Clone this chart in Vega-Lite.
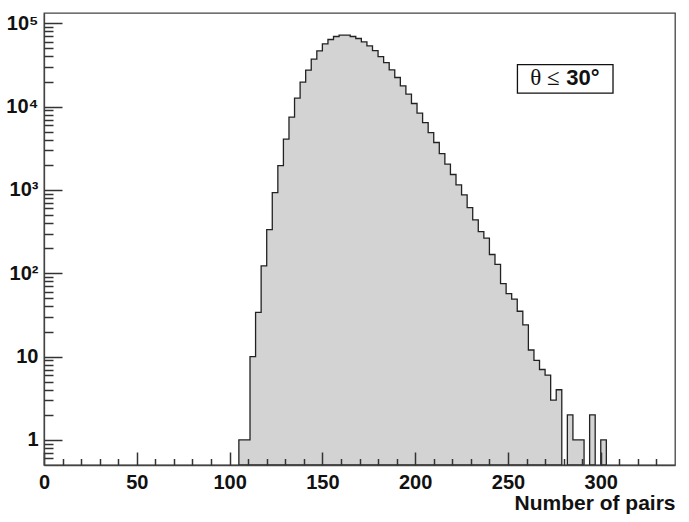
{
  "$schema": "https://vega.github.io/schema/vega-lite/v6.json",
  "width": 631,
  "height": 452,
  "autosize": "none",
  "padding": {"left": 44, "top": 13, "right": 14, "bottom": 57},
  "background": "white",
  "config": {"view": {"stroke": "#444", "strokeWidth": 1.3}, "font": "Liberation Sans"},
  "resolve": {"axis": {"x": "independent", "y": "independent"}},
  "datasets": {
    "bins": [
      {"lo": 105, "hi": 108, "n": 1, "seg": 1},
      {"lo": 108, "hi": 111, "n": 1, "seg": 1},
      {"lo": 111, "hi": 114, "n": 10, "seg": 1},
      {"lo": 114, "hi": 117, "n": 34, "seg": 1},
      {"lo": 117, "hi": 120, "n": 123, "seg": 1},
      {"lo": 120, "hi": 123, "n": 335, "seg": 1},
      {"lo": 123, "hi": 126, "n": 930, "seg": 1},
      {"lo": 126, "hi": 129, "n": 1963, "seg": 1},
      {"lo": 129, "hi": 132, "n": 4074, "seg": 1},
      {"lo": 132, "hi": 135, "n": 7480, "seg": 1},
      {"lo": 135, "hi": 138, "n": 12650, "seg": 1},
      {"lo": 138, "hi": 141, "n": 19680, "seg": 1},
      {"lo": 141, "hi": 144, "n": 27440, "seg": 1},
      {"lo": 144, "hi": 147, "n": 37150, "seg": 1},
      {"lo": 147, "hi": 150, "n": 46740, "seg": 1},
      {"lo": 150, "hi": 153, "n": 56760, "seg": 1},
      {"lo": 153, "hi": 156, "n": 63960, "seg": 1},
      {"lo": 156, "hi": 159, "n": 69500, "seg": 1},
      {"lo": 159, "hi": 162, "n": 72150, "seg": 1},
      {"lo": 162, "hi": 165, "n": 72080, "seg": 1},
      {"lo": 165, "hi": 168, "n": 69480, "seg": 1},
      {"lo": 168, "hi": 171, "n": 65730, "seg": 1},
      {"lo": 171, "hi": 174, "n": 59970, "seg": 1},
      {"lo": 174, "hi": 177, "n": 53700, "seg": 1},
      {"lo": 177, "hi": 180, "n": 47100, "seg": 1},
      {"lo": 180, "hi": 183, "n": 39940, "seg": 1},
      {"lo": 183, "hi": 186, "n": 33820, "seg": 1},
      {"lo": 186, "hi": 189, "n": 27640, "seg": 1},
      {"lo": 189, "hi": 192, "n": 22380, "seg": 1},
      {"lo": 192, "hi": 195, "n": 17790, "seg": 1},
      {"lo": 195, "hi": 198, "n": 14130, "seg": 1},
      {"lo": 198, "hi": 201, "n": 10900, "seg": 1},
      {"lo": 201, "hi": 204, "n": 8350, "seg": 1},
      {"lo": 204, "hi": 207, "n": 6440, "seg": 1},
      {"lo": 207, "hi": 210, "n": 4890, "seg": 1},
      {"lo": 210, "hi": 213, "n": 3710, "seg": 1},
      {"lo": 213, "hi": 216, "n": 2735, "seg": 1},
      {"lo": 216, "hi": 219, "n": 2040, "seg": 1},
      {"lo": 219, "hi": 222, "n": 1532, "seg": 1},
      {"lo": 222, "hi": 225, "n": 1151, "seg": 1},
      {"lo": 225, "hi": 228, "n": 873, "seg": 1},
      {"lo": 228, "hi": 231, "n": 615, "seg": 1},
      {"lo": 231, "hi": 234, "n": 438, "seg": 1},
      {"lo": 234, "hi": 237, "n": 317, "seg": 1},
      {"lo": 237, "hi": 240, "n": 264, "seg": 1},
      {"lo": 240, "hi": 243, "n": 168, "seg": 1},
      {"lo": 243, "hi": 246, "n": 128, "seg": 1},
      {"lo": 246, "hi": 249, "n": 75, "seg": 1},
      {"lo": 249, "hi": 252, "n": 57, "seg": 1},
      {"lo": 252, "hi": 255, "n": 49, "seg": 1},
      {"lo": 255, "hi": 258, "n": 35, "seg": 1},
      {"lo": 258, "hi": 261, "n": 24, "seg": 1},
      {"lo": 261, "hi": 264, "n": 12, "seg": 1},
      {"lo": 264, "hi": 267, "n": 9, "seg": 1},
      {"lo": 267, "hi": 270, "n": 7, "seg": 1},
      {"lo": 270, "hi": 273, "n": 6, "seg": 1},
      {"lo": 273, "hi": 276, "n": 3, "seg": 1},
      {"lo": 276, "hi": 279, "n": 4, "seg": 1},
      {"lo": 282, "hi": 285, "n": 2, "seg": 2},
      {"lo": 285, "hi": 288, "n": 1, "seg": 2},
      {"lo": 288, "hi": 291, "n": 1, "seg": 2},
      {"lo": 294, "hi": 297, "n": 2, "seg": 3},
      {"lo": 300, "hi": 303, "n": 1, "seg": 4}
    ]
  },
  "layer": [
    {
      "data": {"name": "bins"},
      "transform": [{"fold": ["lo", "hi"], "as": ["side", "edge"]}],
      "mark": {"type": "area", "fill": "#d3d3d3", "stroke": "#222", "strokeWidth": 1.3, "clip": true, "interpolate": "linear"},
      "encoding": {
        "x": {
          "field": "edge", "type": "quantitative",
          "scale": {"domain": [0, 340], "nice": false, "zero": false},
          "axis": {
            "orient": "bottom",
            "values": [0, 50, 100, 150, 200, 250, 300],
            "ticks": false,
            "domainColor": "#444", "domainWidth": 1.3,
            "labelFont": "Liberation Sans", "labelFontWeight": "bold", "labelFontSize": 20, "labelColor": "#111",
            "labelPadding": 7, "labelFlush": false, "labelOverlap": false,
            "grid": false, "zindex": 1,
            "title": "Number of pairs", "titleAnchor": "end", "titleAlign": "right",
            "titleFont": "Liberation Sans", "titleFontWeight": "bold", "titleFontSize": 21, "titleColor": "#111",
            "titlePadding": 0
          }
        },
        "y": {
          "field": "n", "type": "quantitative",
          "scale": {"type": "log", "domain": [0.5, 133000], "nice": false},
          "axis": {
            "orient": "left",
            "values": [1, 10, 100, 1000, 10000, 100000],
            "labelExpr": "datum.value === 1 ? '1' : datum.value === 10 ? '10' : datum.value === 100 ? '10²' : datum.value === 1000 ? '10³' : datum.value === 10000 ? '10⁴' : '10⁵'",
            "ticks": false,
            "domainColor": "#444", "domainWidth": 1.3,
            "labelFont": "Liberation Sans", "labelFontWeight": "bold", "labelFontSize": 20, "labelColor": "#111",
            "labelPadding": 6, "labelFlush": false, "labelOverlap": false,
            "grid": false, "zindex": 1, "title": null
          }
        },
        "y2": {"datum": 0.5},
        "detail": {"field": "seg", "type": "nominal"}
      }
    },
    {
      "data": {"values": [{}]},
      "mark": {"type": "rect", "fill": "white", "stroke": "#111", "strokeWidth": 1.3},
      "encoding": {
        "x": {"datum": 255.1, "type": "quantitative",
          "axis": {"orient": "bottom", "values": [0, 50, 100, 150, 200, 250, 300], "labels": false, "domain": false, "grid": false,
                   "tickSize": -13, "tickColor": "#333", "tickWidth": 1.5, "title": null, "zindex": 1}},
        "x2": {"datum": 306.6},
        "y": {"datum": 32000, "type": "quantitative",
          "axis": {"orient": "left", "values": [1, 10, 100, 1000, 10000, 100000], "labels": false, "domain": false, "grid": false,
                   "tickSize": -18, "tickColor": "#333", "tickWidth": 1.5, "title": null, "zindex": 1}},
        "y2": {"datum": 14520}
      }
    },
    {
      "data": {"values": [{}]},
      "mark": {"type": "text", "text": "θ ≤", "font": "Liberation Serif", "fontSize": 23, "align": "left", "baseline": "alphabetic", "color": "#111"},
      "encoding": {
        "x": {"datum": 262, "type": "quantitative",
          "axis": {"orient": "bottom", "values": [10, 20, 30, 40, 60, 70, 80, 90, 110, 120, 130, 140, 160, 170, 180, 190, 210, 220, 230, 240, 260, 270, 280, 290, 310, 320, 330],
                   "labels": false, "domain": false, "grid": false,
                   "tickSize": -6.5, "tickColor": "#333", "tickWidth": 1.5, "title": null, "zindex": 1}},
        "y": {"datum": 18300, "type": "quantitative",
          "axis": {"orient": "left", "values": [0.6, 0.7, 0.8, 0.9, 2, 3, 4, 5, 6, 7, 8, 9, 20, 30, 40, 50, 60, 70, 80, 90, 200, 300, 400, 500, 600, 700, 800, 900, 2000, 3000, 4000, 5000, 6000, 7000, 8000, 9000, 20000, 30000, 40000, 50000, 60000, 70000, 80000, 90000],
                   "labels": false, "domain": false, "grid": false,
                   "tickSize": -9, "tickColor": "#333", "tickWidth": 1.5, "title": null, "zindex": 1}}
      }
    },
    {
      "data": {"values": [{}]},
      "mark": {"type": "text", "text": "30°", "font": "Liberation Sans", "fontWeight": "bold", "fontSize": 22, "align": "left", "baseline": "alphabetic", "color": "#111"},
      "encoding": {
        "x": {"datum": 281.4, "type": "quantitative", "axis": null},
        "y": {"datum": 18300, "type": "quantitative", "axis": null}
      }
    }
  ]
}
